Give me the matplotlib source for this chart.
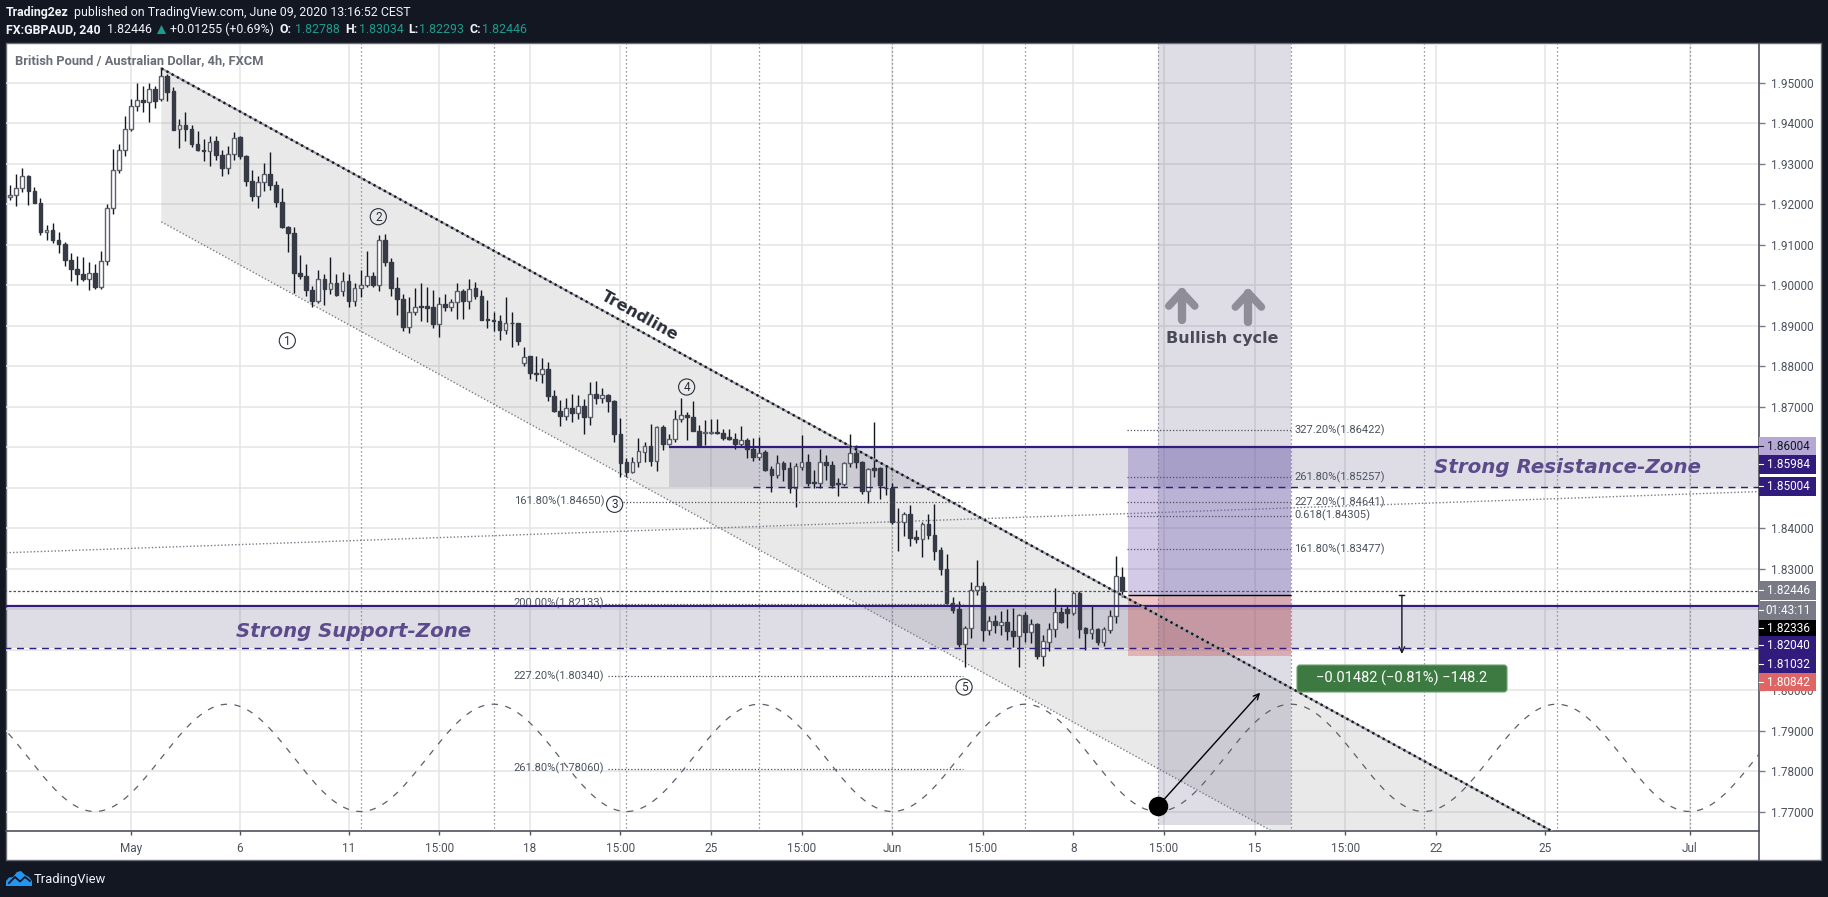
import numpy as np
import matplotlib
matplotlib.use("Agg")
import matplotlib.pyplot as plt
from matplotlib.patches import Rectangle, Polygon, FancyBboxPatch

highs = [1.9246,1.9275,1.9290,1.9271,1.9243,1.9216,1.9147,1.9154,1.9132,1.9106,
1.9080,1.9072,1.9068,1.9056,1.9052,1.9085,1.9201,1.9337,1.9348,1.9417,
1.9459,1.9498,1.9491,1.9498,1.9491,1.9537,1.9522,1.9489,1.9409,1.9427,
1.9394,1.9380,1.9360,1.9367,1.9367,1.9333,1.9344,1.9377,1.9367,1.9320,
1.9283,1.9269,1.9302,1.9328,1.9258,1.9239,1.9146,1.9143,1.9075,1.9052,
1.8998,1.9036,1.9028,1.9068,1.9028,1.9033,1.9028,1.9006,1.9036,1.9083,
1.9033,1.9124,1.9127,1.9067,1.9021,1.8979,1.8971,1.8992,1.9006,1.8994,
1.8987,1.8971,1.8979,1.8965,1.9006,1.8989,1.9015,1.9008,1.8987,1.8962,
1.8933,1.8925,1.8971,1.8934,1.8906,1.8848,1.8825,1.8825,1.8820,1.8809,
1.8742,1.8717,1.8720,1.8730,1.8729,1.8719,1.8761,1.8764,1.8746,1.8732,
1.8715,1.8671,1.8573,1.8575,1.8623,1.8613,1.8658,1.8652,1.8654,1.8631,
1.8691,1.8722,1.8686,1.8714,1.8655,1.8666,1.8668,1.8668,1.8645,1.8644,
1.8635,1.8651,1.8623,1.8622,1.8625,1.8593,1.8553,1.8580,1.8566,1.8563,
1.8560,1.8630,1.8583,1.8543,1.8594,1.8580,1.8566,1.8523,1.8564,1.8632,
1.8605,1.8566,1.8547,1.8661,1.8550,1.8553,1.8510,1.8449,1.8439,1.8457,
1.8395,1.8416,1.8434,1.8459,1.8352,1.8337,1.8229,1.8221,1.8157,1.8266,
1.8321,1.8266,1.8183,1.8184,1.8194,1.8200,1.8202,1.8188,1.8192,1.8175,
1.8165,1.8137,1.8165,1.8251,1.8204,1.8211,1.8244,1.8244,1.8155,1.8210,
1.8153,1.8156,1.8198,1.8332,1.83034]

lows = [1.9209,1.9195,1.9229,1.9198,1.9202,1.9123,1.9110,1.9104,1.9080,1.9047,
1.9011,1.9001,1.9011,1.8987,1.8990,1.8990,1.9049,1.9175,1.9277,1.9318,
1.9381,1.9430,1.9428,1.9402,1.9437,1.9455,1.9455,1.9382,1.9338,1.9355,
1.9341,1.9331,1.9305,1.9294,1.9308,1.9268,1.9273,1.9308,1.9310,1.9244,
1.9207,1.9189,1.9232,1.9234,1.9192,1.9141,1.9081,1.8980,1.9015,1.8974,
1.8946,1.8956,1.8950,1.8977,1.8974,1.8974,1.8946,1.8947,1.8970,1.8995,
1.8995,1.8984,1.9047,1.8972,1.8927,1.8887,1.8882,1.8927,1.8910,1.8908,
1.8893,1.8872,1.8936,1.8937,1.8916,1.8916,1.8942,1.8965,1.8913,1.8894,
1.8887,1.8865,1.8878,1.8846,1.8853,1.8799,1.8767,1.8762,1.8758,1.8713,
1.8686,1.8651,1.8666,1.8662,1.8670,1.8631,1.8654,1.8705,1.8709,1.8686,
1.8612,1.8525,1.8526,1.8537,1.8551,1.8563,1.8553,1.8541,1.8592,1.8604,
1.8613,1.8662,1.8617,1.8640,1.8600,1.8604,1.8631,1.8633,1.8618,1.8617,
1.8595,1.8602,1.8572,1.8566,1.8567,1.8541,1.8490,1.8524,1.8517,1.8487,
1.8453,1.8543,1.8504,1.8500,1.8500,1.8518,1.8500,1.8479,1.8504,1.8551,
1.8547,1.8484,1.8462,1.8527,1.8472,1.8481,1.8410,1.8344,1.8380,1.8356,
1.8364,1.8329,1.8373,1.8321,1.8285,1.8208,1.8191,1.8105,1.8058,1.8128,
1.8235,1.8121,1.8136,1.8141,1.8137,1.8123,1.8105,1.8058,1.8118,1.8115,
1.8077,1.8060,1.8097,1.8131,1.8166,1.8153,1.8185,1.8128,1.8099,1.8126,
1.8111,1.8109,1.8140,1.8165,1.82293]

opens = [1.9217,1.9223,1.9240,1.9268,1.9233,1.9203,1.9132,1.9137,1.9112,1.9102,
1.9062,1.9040,1.9028,1.9015,1.9030,1.8995,1.9060,1.9191,1.9285,1.9334,
1.9385,1.9443,1.9458,1.9453,1.9483,1.9460,1.9515,1.9478,1.9384,1.9396,
1.9386,1.9349,1.9334,1.9331,1.9355,1.9322,1.9289,1.9324,1.9365,1.9319,
1.9258,1.9220,1.9254,1.9273,1.9248,1.9206,1.9144,1.9129,1.9030,1.9023,
1.8988,1.8961,1.9015,1.8990,1.9006,1.8985,1.9011,1.8961,1.8993,1.9000,
1.9023,1.8999,1.9111,1.9057,1.8993,1.8966,1.8897,1.8933,1.8948,1.8949,
1.8945,1.8904,1.8954,1.8946,1.8958,1.8984,1.8961,1.8992,1.8974,1.8915,
1.8914,1.8911,1.8888,1.8906,1.8906,1.8807,1.8824,1.8783,1.8780,1.8793,
1.8727,1.8690,1.8677,1.8697,1.8683,1.8702,1.8674,1.8732,1.8721,1.8729,
1.8714,1.8633,1.8562,1.8539,1.8562,1.8588,1.8603,1.8566,1.8649,1.8608,
1.8621,1.8668,1.8680,1.8675,1.8640,1.8635,1.8635,1.8638,1.8635,1.8624,
1.8621,1.8608,1.8618,1.8594,1.8576,1.8587,1.8545,1.8532,1.8560,1.8547,
1.8500,1.8551,1.8562,1.8513,1.8512,1.8564,1.8555,1.8510,1.8509,1.8560,
1.8584,1.8564,1.8492,1.8547,1.8547,1.8499,1.8498,1.8415,1.8416,1.8434,
1.8378,1.8374,1.8409,1.8382,1.8345,1.8300,1.8216,1.8199,1.8114,1.8152,
1.8248,1.8258,1.8149,1.8170,1.8161,1.8167,1.8145,1.8134,1.8184,1.8144,
1.8162,1.8085,1.8119,1.8150,1.8192,1.8201,1.8191,1.8239,1.8152,1.8141,
1.8150,1.8119,1.8149,1.8182,1.82788]

closes = [1.9223,1.9240,1.9268,1.9233,1.9203,1.9131,1.9137,1.9111,1.9101,1.9062,
1.9039,1.9028,1.9015,1.9030,1.8995,1.9059,1.9191,1.9285,1.9334,1.9386,
1.9442,1.9458,1.9453,1.9483,1.9455,1.9515,1.9477,1.9383,1.9396,1.9386,
1.9349,1.9334,1.9332,1.9354,1.9321,1.9290,1.9324,1.9364,1.9319,1.9258,
1.9220,1.9255,1.9273,1.9247,1.9205,1.9143,1.9129,1.9029,1.9022,1.8988,
1.8961,1.9015,1.8990,1.9006,1.8975,1.9011,1.8961,1.8993,1.8999,1.9023,
1.8999,1.9111,1.9056,1.8992,1.8965,1.8897,1.8934,1.8946,1.8946,1.8943,
1.8904,1.8954,1.8945,1.8959,1.8984,1.8961,1.8991,1.8973,1.8914,1.8913,
1.8911,1.8888,1.8906,1.8905,1.8861,1.8823,1.8782,1.8780,1.8793,1.8726,
1.8689,1.8676,1.8697,1.8683,1.8702,1.8674,1.8732,1.8721,1.8729,1.8714,
1.8633,1.8561,1.8539,1.8562,1.8589,1.8603,1.8566,1.8649,1.8608,1.8621,
1.8668,1.8679,1.8675,1.8640,1.8605,1.8636,1.8637,1.8635,1.8623,1.8621,
1.8608,1.8618,1.8594,1.8576,1.8586,1.8543,1.8532,1.8560,1.8546,1.8499,
1.8552,1.8562,1.8512,1.8512,1.8564,1.8555,1.8507,1.8508,1.8560,1.8584,
1.8564,1.8492,1.8545,1.8544,1.8507,1.8498,1.8416,1.8416,1.8434,1.8376,
1.8374,1.8409,1.8382,1.8344,1.8300,1.8216,1.8198,1.8113,1.8152,1.8248,
1.8258,1.8149,1.8170,1.8161,1.8167,1.8145,1.8134,1.8184,1.8144,1.8162,
1.8085,1.8120,1.8150,1.8192,1.8169,1.8191,1.8239,1.8151,1.8141,1.8150,
1.8119,1.8150,1.8182,1.8281,1.82446]

x_tick_pos = [20, 38, 56, 71, 86, 101, 116, 131, 146, 161, 176, 191, 206, 221, 236, 254, 278]
x_tick_labels = ["May", "6", "11", "15:00", "18", "15:00", "25", "15:00", "Jun", "15:00", "8",
                 "15:00", "15", "15:00", "22", "25", "Jul"]
y_ticks = [1.77, 1.78, 1.79, 1.80, 1.81, 1.82, 1.83, 1.84, 1.85, 1.86, 1.87, 1.88, 1.89, 1.90,
           1.91, 1.92, 1.93, 1.94, 1.95]
y_hidden = [1.81, 1.82, 1.85, 1.86]

cycle_lines = [58, 80, 102, 124, 146, 168, 190, 212, 234, 256, 278]
wave_x = [-8, 14, 36, 58, 80, 102, 124, 146, 168, 190, 212, 234, 256, 278, 300]
wave_y = [1.7965, 1.77, 1.7965, 1.77, 1.7965, 1.77, 1.7965, 1.77, 1.7965, 1.77, 1.7965, 1.77, 1.7965, 1.77, 1.7965]

channel_x = [25, 262]
channel_top = [1.9535, 1.7596]
channel_bot = [1.9156, 1.7217]
slant_x = [-0.7, 289.5]
slant_y = [1.8339, 1.8490]

res_hi, res_lo = 1.86004, 1.85004
sup_hi, sup_lo = 1.8208, 1.81032
last_price = 1.82446
pos_entry, pos_top, pos_bot = 1.82336, 1.86004, 1.80842
pos_x = [185, 212]
bull_x = [190, 212]
bull_bot = 1.7667

fib_left_vals = [1.84650, 1.82133, 1.80340, 1.78060]
fib_left_text = ["161.80%(1.84650)", "200.00%(1.82133)", "227.20%(1.80340)", "261.80%(1.78060)"]
fib_left_start = [101.4, 98.5, 99, 99]
fib_left_end = 157.8
fib_right_vals = [1.86422, 1.85257, 1.84641, 1.84305, 1.83477]
fib_right_text = ["327.20%(1.86422)", "261.80%(1.85257)", "227.20%(1.84641)", "0.618(1.84305)", "161.80%(1.83477)"]

side_labels = ["1.86004", "1.85984", "1.85004", "1.82446", "01:43:11", "1.82336", "1.82040", "1.81032", "1.80842"]
side_tops = [437, 455, 477, 581, 601, 620, 636, 654.5, 673]
side_bots = [455, 474, 495.7, 600, 620, 636, 654.5, 673, 691]
side_fill = ["#b5a8d5", "#311b7c", "#311b7c", "#787b86", "#787b86", "#000000", "#311b7c", "#311b7c", "#e06666"]
side_ink = ["#131722", "white", "white", "white", "white", "white", "white", "white", "white"]

W, H = 1828, 897
plt.rcParams["font.family"] = ["Roboto", "DejaVu Sans"]
BG = "#131722"
INK = "#4c525e"
PURPLE = "#311b7c"
GRID = "#e4e4e4"
FS = 8.5
FIB = 8.0
HD = 8.9

fig = plt.figure(figsize=(W / 100, H / 100), dpi=100, facecolor=BG)

back = fig.add_axes([0, 0, 1, 1], zorder=0)
back.set_xlim(0, W); back.set_ylim(H, 0); back.axis("off")
back.add_patch(Rectangle((5.5, 43.5), 1815.5, 816.5, fc="white", ec="#6a6d78", lw=1))

L, R, T, B = 6, 1759, 44, 831
ax = fig.add_axes([L / W, (H - B) / H, (R - L) / W, (B - T) / H], zorder=1)
ax.set_xlim(-0.71, 289.5)
ax.set_ylim(1.76519, 1.95951)
ax.patch.set_alpha(0)

def X(px):
    return (px - 10.3) / 6.04

def Y(py):
    return 1.95 - (py - 82.5) / 4050.0

ax.yaxis.tick_right()
ax.set_yticks(y_ticks)
ax.set_yticklabels(["" if v in y_hidden else f"{v:.5f}" for v in y_ticks])
ax.set_xticks(x_tick_pos)
ax.set_xticklabels(x_tick_labels)
ax.tick_params(axis="y", length=4, width=1, color="#787b86", labelcolor=INK, labelsize=FS, pad=4.5)
ax.tick_params(axis="x", length=3, width=1, color="#50535e", labelcolor=INK, labelsize=FS, pad=5)
ax.grid(True, color=GRID, lw=1.1, zorder=0)
ax.set_axisbelow(True)
for s in ("top", "left"):
    ax.spines[s].set_visible(False)
for s in ("right", "bottom"):
    ax.spines[s].set_color("#50535e")
    ax.spines[s].set_linewidth(1.2)

# channel
ax.add_patch(Polygon([(channel_x[0], channel_top[0]), (channel_x[1], channel_top[1]),
                      (channel_x[1], channel_bot[1]), (channel_x[0], channel_bot[0])],
                     closed=True, fc="#808080", alpha=0.17, ec="none", zorder=2))
ax.plot(channel_x, channel_bot, color="#787b86", lw=1, dashes=(1, 1.5), zorder=3)
ax.plot(slant_x, slant_y, color="#787b86", lw=1, dashes=(1, 1.5), zorder=3)

# zones
ZONE = "#5a5582"
ax.add_patch(Rectangle((109, res_lo), 290 - 109, res_hi - res_lo, fc=ZONE, alpha=0.2, ec="none", zorder=2))
ax.add_patch(Rectangle((-1, sup_lo), 291, sup_hi - sup_lo, fc=ZONE, alpha=0.2, ec="none", zorder=2))
ax.add_patch(Rectangle((bull_x[0], bull_bot), bull_x[1] - bull_x[0], 1.96 - bull_bot, fc=ZONE, alpha=0.2, ec="none", zorder=2))
ax.add_patch(Rectangle((pos_x[0], pos_entry), pos_x[1] - pos_x[0], pos_top - pos_entry,
                       fc=(108 / 255, 82 / 255, 178 / 255), alpha=0.3, ec="none", zorder=3))
ax.add_patch(Rectangle((pos_x[0], pos_bot), pos_x[1] - pos_x[0], pos_entry - pos_bot,
                       fc=(205 / 255, 60 / 255, 60 / 255), alpha=0.3, ec="none", zorder=3))

# cycle lines + wave
ax.vlines(cycle_lines, 1.76, 1.96, color="#787b86", lw=0.9, linestyles=[(0, (1, 2.2))], zorder=3)
wx, wy = [], []
for k in range(len(wave_x) - 1):
    xs = np.linspace(wave_x[k], wave_x[k + 1], 40)
    t = (xs - wave_x[k]) / (wave_x[k + 1] - wave_x[k])
    ys = wave_y[k] + (wave_y[k + 1] - wave_y[k]) * (1 - np.cos(np.pi * t)) / 2
    wx.extend(xs[1:]); wy.extend(ys[1:])
ax.plot(wx, wy, color="#5d606b", lw=0.9, dashes=(5, 6), zorder=3)

# candles
idx = np.arange(len(closes))
o, c, h, l = map(np.array, (opens, closes, highs, lows))
up = c >= o
ax.vlines(idx, l, h, color="#131722", lw=1.0, zorder=4)
ax.bar(idx[up], np.abs(c - o)[up], bottom=np.minimum(o, c)[up], width=0.62,
       fc="white", ec="#5d606b", lw=1.0, zorder=5)
ax.bar(idx[~up], np.abs(c - o)[~up], bottom=np.minimum(o, c)[~up], width=0.62,
       fc="#363a45", ec="#363a45", lw=1.0, zorder=5)

# level lines
ax.hlines(res_hi, 109, 290, color=PURPLE, lw=1.6, zorder=6)
ax.hlines(sup_hi, -1, 290, color=PURPLE, lw=1.6, zorder=6)
ax.plot([123, 290], [res_lo, res_lo], color=PURPLE, lw=1.0, dashes=(5, 4), zorder=6)
ax.plot([-1, 290], [sup_lo, sup_lo], color=PURPLE, lw=1.0, dashes=(5, 4), zorder=6)
ax.hlines(last_price, -1, 290, color="#50535e", lw=0.9, linestyles=[(0, (2, 1.6))], zorder=6)
ax.hlines(pos_entry, pos_x[0], pos_x[1], color="black", lw=1, zorder=6)

# fib lines
for v, s, txt in zip(fib_left_vals, fib_left_start, fib_left_text):
    ax.plot([s, fib_left_end], [v, v], color="#50535e", lw=0.9, dashes=(1, 1.6), zorder=6)
    ax.text(X(604), v, txt, ha="right", va="center", color=INK, fontsize=FIB, zorder=8)
for v, txt in zip(fib_right_vals, fib_right_text):
    ax.plot([184.8, 212], [v, v], color="#50535e", lw=0.9, dashes=(1, 1.6), zorder=6)
    ax.text(X(1294), v, txt, ha="left", va="center", color=INK, fontsize=FIB, zorder=8)

# trendline
ax.plot(channel_x, channel_top, color="#9a9ca3", lw=1.4, zorder=6.5)
ax.plot(channel_x, channel_top, color="#131722", lw=1.7, dashes=(1, 1.5), zorder=7)

# wave-count circles
circle_px = [(287.3, 340.7), (378.3, 216.7), (614.6, 504.3), (686.6, 387), (964, 687)]
for n, (px, py) in enumerate(circle_px, 1):
    ax.scatter([X(px)], [Y(py)], s=135, fc="none", ec="#2a2e39", lw=0.8, zorder=8)
    ax.text(X(px), Y(py) - 0.0001, str(n), ha="center", va="center", color="#2a2e39", fontsize=8.5, zorder=9)

# text labels
BOLD = dict(family="DejaVu Sans", fontweight="bold")
ax.text(X(354), Y(631), "Strong Support-Zone", ha="center", va="center", color="#5b4b8a",
        fontstyle="oblique", fontsize=14.2, zorder=9, **BOLD)
ax.text(X(1567), Y(467.5), "Strong Resistance-Zone", ha="center", va="center", color="#5b4b8a",
        fontstyle="oblique", fontsize=14.3, zorder=9, **BOLD)
ax.text(X(640), Y(316), "Trendline", ha="center", va="center", rotation=-29, rotation_mode="anchor",
        color="#2a2e39", fontsize=11.7, zorder=9, **BOLD)
ax.text(X(1222.5), Y(338), "Bullish cycle", ha="center", va="center", color="#4a4a58",
        fontsize=11.5, zorder=9, **BOLD)

# up arrows
for cx, top, bot in [(1181.7, 292, 320), (1248.3, 293, 322)]:
    ax.plot([X(cx), X(cx)], [Y(bot), Y(top)], color="#8f8d97", lw=6, solid_capstyle="round", zorder=8)
    ax.plot([X(cx - 13), X(cx), X(cx + 13)], [Y(top + 14), Y(top), Y(top + 14)], color="#8f8d97", lw=5.5,
            solid_capstyle="round", solid_joinstyle="round", zorder=8)

# black dot and arrows
ax.scatter([X(1158)], [Y(806)], s=170, color="black", zorder=9)
ax.annotate("", xy=(X(1260), Y(692.7)), xytext=(X(1158), Y(806)),
            arrowprops=dict(arrowstyle="->", color="black", lw=1, shrinkA=0, shrinkB=0, mutation_scale=10), zorder=9)
mx = X(1401.8)
ax.annotate("", xy=(mx, pos_bot + 0.0005), xytext=(mx, pos_entry),
            arrowprops=dict(arrowstyle="->", color="#131722", lw=1, shrinkA=0, shrinkB=0, mutation_scale=10), zorder=9)
ax.plot([mx - 0.4, mx + 0.4], [pos_entry, pos_entry], color="#131722", lw=1, zorder=9)

# title in chart
ax.text(X(15), Y(60.3), "British Pound / Australian Dollar, 4h, FXCM", ha="left", va="center",
        color="#6a6d78", fontsize=9.3, fontweight="bold", zorder=10)

# overlay: header, side labels, logo
top = fig.add_axes([0, 0, 1, 1], zorder=5)
top.set_xlim(0, W); top.set_ylim(H, 0); top.axis("off"); top.patch.set_alpha(0)
top.plot([R, R], [B, 860], color="#50535e", lw=1.2)

for t, b, f, ink, s in zip(side_tops, side_bots, side_fill, side_ink, side_labels):
    top.add_patch(Rectangle((R, t), 57, b - t, fc=f, ec="none", zorder=3))
    top.text(R + 29, (t + b) / 2 + 0.3, s, ha="center", va="center", color=ink, fontsize=FS, zorder=4)
    top.plot([R, R + 4], [(t + b) / 2] * 2, color=ink, lw=0.8, zorder=4)

top.add_patch(FancyBboxPatch((1299, 667), 206, 23, boxstyle="round,pad=2,rounding_size=3",
                             fc="#3d7a41", ec="#6fa273", lw=0.8, zorder=3))
top.text(1402, 678.5, "\u22120.01482 (\u22120.81%) \u2212148.2", ha="center", va="center", color="white",
         fontsize=10.5, zorder=4)

WHITE = "#f0f3fa"
TEAL = "#1e9c8e"
top.text(6, 12.8, "Trading2ez", color=WHITE, fontsize=HD, fontweight="bold", va="center")
top.text(74, 12.8, "published on TradingView.com, June 09, 2020 13:16:52 CEST", color=WHITE, fontsize=HD, va="center")
top.text(6, 29.5, "FX:GBPAUD, 240", color=WHITE, fontsize=HD, fontweight="bold", va="center")
top.text(107.5, 29.5, "1.82446", color=WHITE, fontsize=HD, va="center")
top.add_patch(Polygon([(157, 34), (166, 34), (161.5, 25)], closed=True, fc=TEAL, ec="none"))
top.text(170, 29.5, "+0.01255 (+0.69%)", color=WHITE, fontsize=HD, va="center")
for lx, lab, vx, val in [(280, "O:", 294.6, "1.82788"), (344.8, "H:", 358.6, "1.83034"),
                         (408.5, "L:", 419, "1.82293"), (469, "C:", 481.6, "1.82446")]:
    top.text(lx, 29.5, lab, color=WHITE, fontsize=HD, fontweight="bold", va="center")
    top.text(vx, 29.5, val, color=TEAL, fontsize=HD, va="center")

top.add_patch(Polygon([(6, 886), (6, 881), (9, 877.5), (13, 877), (17, 872), (21, 871), (25, 875),
                       (29, 877), (32, 881), (32, 886)], closed=True, fc="#2196f3", ec="none"))
top.plot([9, 15, 20, 25, 30], [883, 877, 881.5, 877, 881], color=BG, lw=1.3)
top.text(34, 879, "TradingView", color=WHITE, fontsize=9.4, va="center")

fig.savefig("out.png", dpi=100, facecolor=BG)
